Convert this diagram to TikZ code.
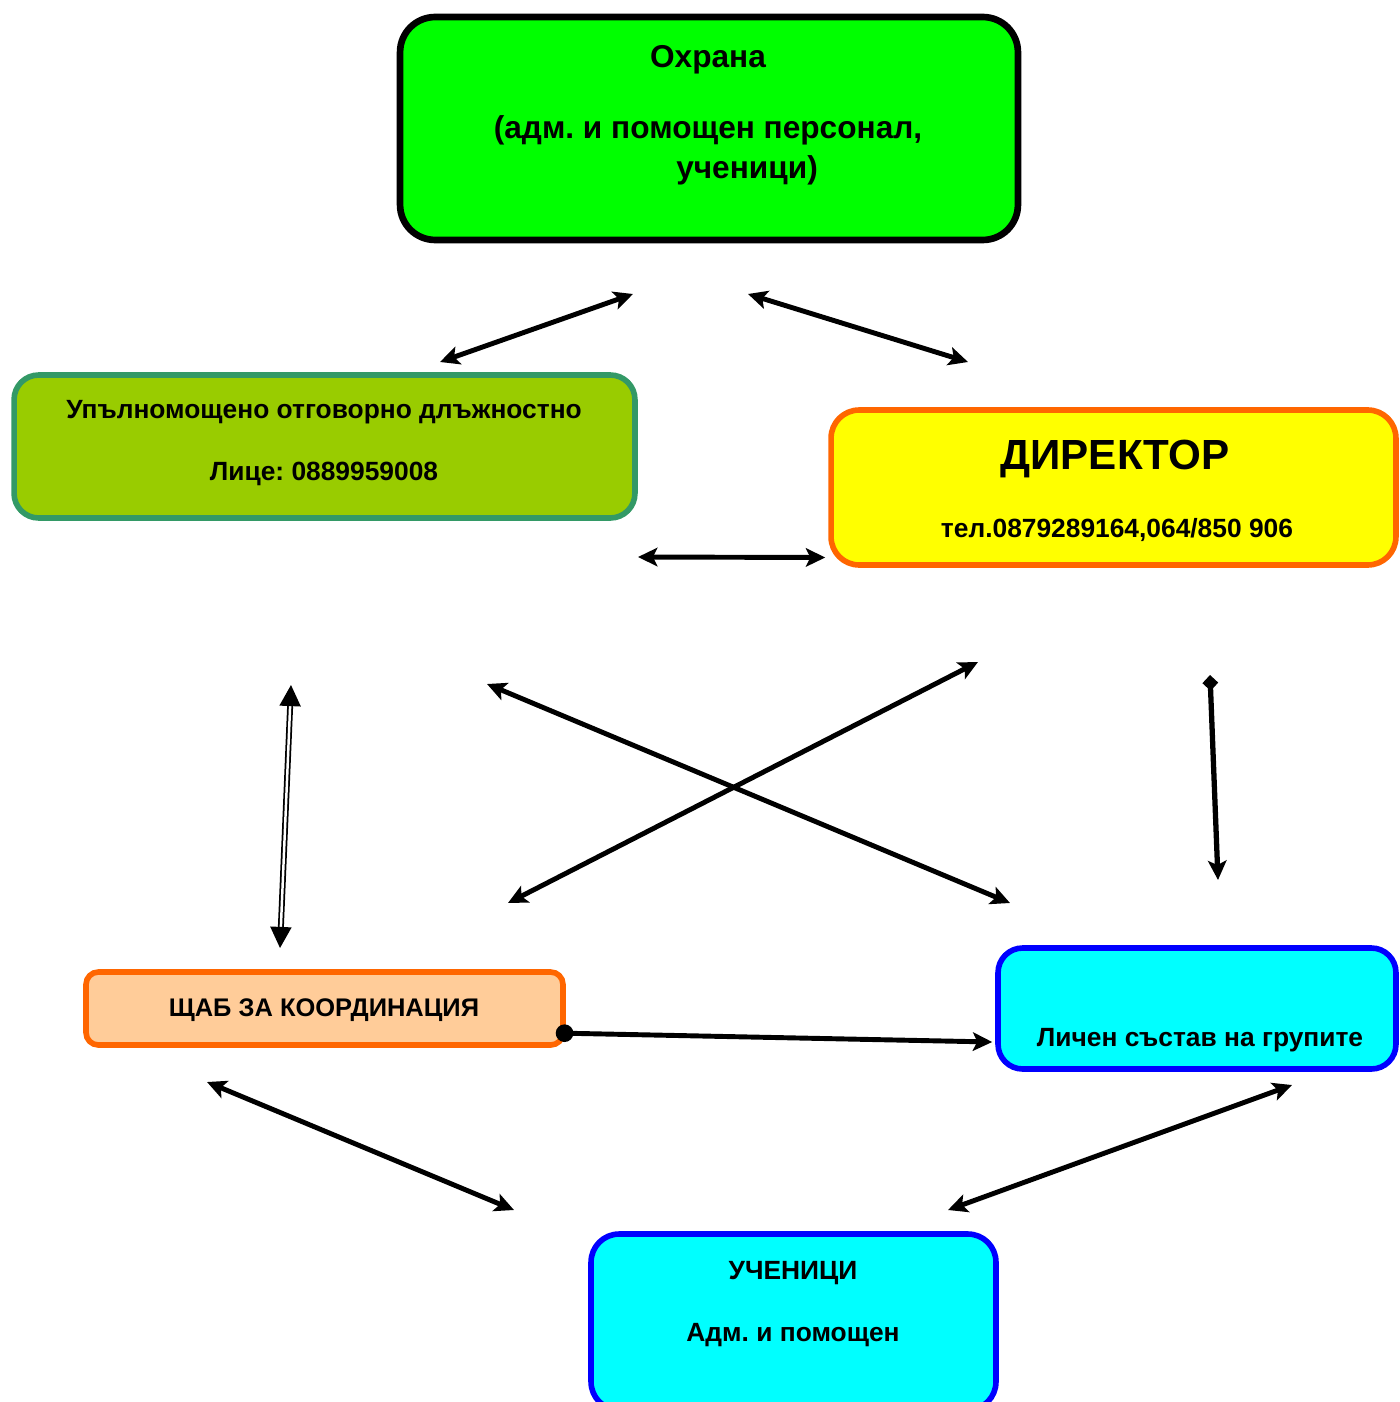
\documentclass[tikz,border=0pt]{standalone}
\usepackage{fontspec}
\setmainfont{Liberation Sans}
\usetikzlibrary{arrows.meta}
\frenchspacing

\definecolor{grn}{HTML}{00FF00}
\definecolor{olive}{HTML}{99CC00}
\definecolor{teal}{HTML}{339966}
\definecolor{yel}{HTML}{FFFF00}
\definecolor{orng}{HTML}{FF6600}
\definecolor{peach}{HTML}{FFCC99}
\definecolor{cyn}{HTML}{00FFFF}
\definecolor{blu}{HTML}{0000FF}

\begin{document}
\begin{tikzpicture}[x=0.02cm,y=-0.02cm, >={Stealth[length=11pt,width=10.5pt,inset=2.5pt]},
	box/.style={draw, rounded corners=14pt, line width=3.2pt, inner sep=0pt},
	txt/.style={anchor=base, inner sep=0pt, font=\bfseries\fontsize{15}{18}\selectfont},
	big/.style={txt, font=\bfseries\fontsize{18}{22}\selectfont},
	link/.style={line width=2.8pt, <->}]
	\useasboundingbox (0,0) rectangle (1399,1402);
	\clip (0,0) rectangle (1399,1402);
	\node[box, fill=grn, draw=black, line width=3.8pt, rounded corners=20pt, minimum width=12.36cm, minimum height=4.46cm] (ohrana) at (709,128.5) {};
	\node[big] (ohrana1) at (708,68) {Охрана};
	\node[big] (ohrana2) at (708,139) {(адм. и помощен персонал,};
	\node[big] (ohrana3) at (747,179) {ученици)};
	\node[box, fill=olive, draw=teal, minimum width=12.42cm, minimum height=2.86cm] (upal) at (324.5,446.5) {};
	\node[txt] (upal1) at (324,418.5) {Упълномощено отговорно длъжностно};
	\node[txt] (upal2) at (324,480.5) {Лице: 0889959008};
	\node[box, fill=yel, draw=orng, rounded corners=16pt, minimum width=11.3cm, minimum height=3.1cm] (direktor) at (1113.5,487.5) {};
	\node[txt, font=\bfseries\fontsize{24}{28}\selectfont] (direktor1) at (1115,469) {ДИРЕКТОР};
	\node[txt] (direktor2) at (1117,537.5) {тел.0879289164,064/850 906};
	\node[box, fill=peach, draw=orng, rounded corners=7pt, minimum width=9.54cm, minimum height=1.46cm] (shtab) at (324.5,1008.5) {};
	\node[txt, font=\bfseries\fontsize{14.5}{17}\selectfont] (shtab1) at (324,1016) {ЩАБ ЗА КООРДИНАЦИЯ};
	\node[box, fill=cyn, draw=blu, minimum width=7.96cm, minimum height=2.42cm] (lichen) at (1197,1008.5) {};
	\node[txt] (lichen1) at (1200,1046.5) {Личен състав на групите};
	\node[box, fill=cyn, draw=blu, rounded corners=16pt, minimum width=8.1cm, minimum height=3.52cm] (uchenici) at (793.5,1322) {};
	\node[txt] (uchenici1) at (793,1279.5) {УЧЕНИЦИ};
	\node[txt] (uchenici2) at (793,1341.5) {Адм. и помощен};
	\coordinate (a1) at (440,362);
	\coordinate (a2) at (633,294);
	\coordinate (b1) at (748,294);
	\coordinate (b2) at (968,362);
	\coordinate (c1) at (638,557);
	\coordinate (c2) at ([shift={(-3,70)}]direktor.west);
	\coordinate (d1) at (291,685);
	\coordinate (d2) at (280,948);
	\coordinate (e1) at (487,684);
	\coordinate (e2) at (1010,903);
	\coordinate (f1) at (978,662);
	\coordinate (f2) at (508,903);
	\coordinate (g1) at (1210,675);
	\coordinate (g2) at (1218,880);
	\coordinate (h1) at ([shift={(-10,24.5)}]shtab.east);
	\coordinate (h2) at ([shift={(-3,33.5)}]lichen.west);
	\coordinate (i1) at (207,1082);
	\coordinate (i2) at (514,1210);
	\coordinate (j1) at (1292,1085);
	\coordinate (j2) at (948,1210);
	\draw[link] (a1) -- (a2);
	\draw[link] (b1) -- (b2);
	\draw[link] (c1) -- (c2);
	\draw[link] (e1) -- (e2);
	\draw[link] (f1) -- (f2);
	\draw[line width=1pt, double, double distance=1.4pt, {Triangle[length=12pt,width=12pt]}-{Triangle[length=12pt,width=12pt]}] (d1) -- (d2);
	\draw[line width=3pt, {Diamond[length=9pt,width=9pt]}->] (g1) -- (g2);
	\draw[line width=2.8pt, {Circle[length=10pt]}->] (h1) -- (h2);
	\draw[link] (i1) -- (i2);
	\draw[link] (j1) -- (j2);
\end{tikzpicture}
\end{document}
